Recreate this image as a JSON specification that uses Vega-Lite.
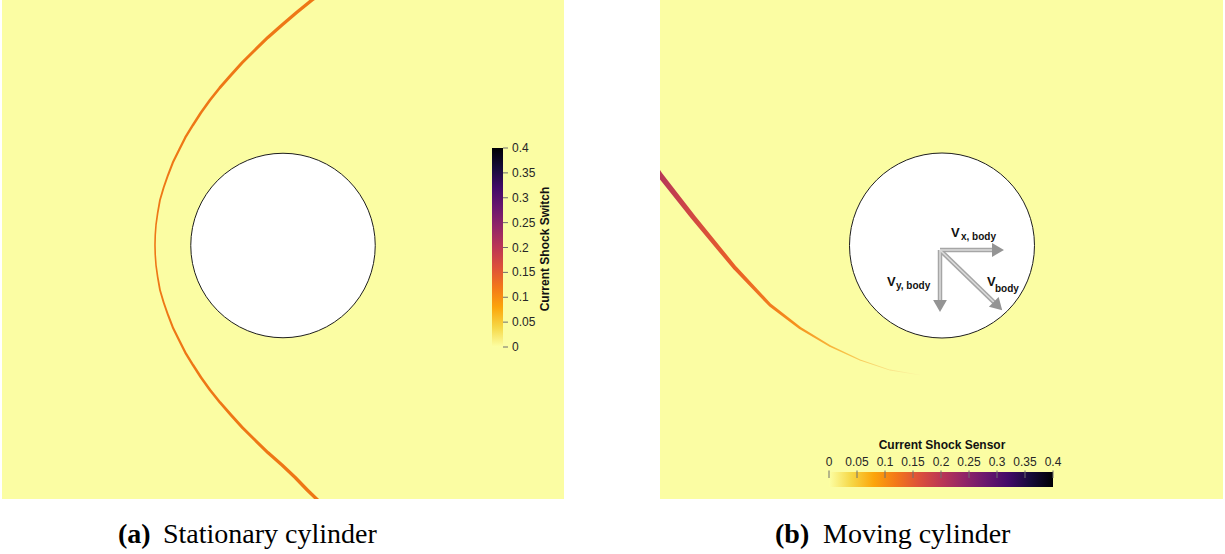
{
  "$schema": "https://vega.github.io/schema/vega-lite/v6.json",
  "background": "white",
  "padding": {"left": 2, "top": 0, "right": 0, "bottom": 0},
  "spacing": 96,
  "config": {
    "view": {"fill": "#fbfda3", "stroke": null},
    "axis": {"disable": true},
    "legend": {"disable": true},
    "text": {"font": "Liberation Sans"}
  },
  "datasets": {
    "shockA": [
      {"x": 0.454, "y": 2.762, "s": 0.17},
      {"x": 0.314, "y": 2.654, "s": 0.17},
      {"x": 0.147, "y": 2.519, "s": 0.165},
      {"x": -0.011, "y": 2.384, "s": 0.16},
      {"x": -0.164, "y": 2.249, "s": 0.155},
      {"x": -0.303, "y": 2.114, "s": 0.15},
      {"x": -0.44, "y": 1.978, "s": 0.145},
      {"x": -0.562, "y": 1.843, "s": 0.14},
      {"x": -0.681, "y": 1.708, "s": 0.135},
      {"x": -0.789, "y": 1.573, "s": 0.13},
      {"x": -0.886, "y": 1.438, "s": 0.125},
      {"x": -0.973, "y": 1.303, "s": 0.12},
      {"x": -1.056, "y": 1.168, "s": 0.115},
      {"x": -1.124, "y": 1.032, "s": 0.11},
      {"x": -1.191, "y": 0.897, "s": 0.105},
      {"x": -1.243, "y": 0.762, "s": 0.1},
      {"x": -1.29, "y": 0.627, "s": 0.095},
      {"x": -1.33, "y": 0.492, "s": 0.09},
      {"x": -1.354, "y": 0.357, "s": 0.085},
      {"x": -1.373, "y": 0.222, "s": 0.08},
      {"x": -1.381, "y": 0.114, "s": 0.08},
      {"x": -1.384, "y": 0.005, "s": 0.08},
      {"x": -1.381, "y": -0.103, "s": 0.08},
      {"x": -1.373, "y": -0.211, "s": 0.08},
      {"x": -1.354, "y": -0.346, "s": 0.085},
      {"x": -1.33, "y": -0.481, "s": 0.09},
      {"x": -1.29, "y": -0.616, "s": 0.095},
      {"x": -1.243, "y": -0.751, "s": 0.1},
      {"x": -1.191, "y": -0.886, "s": 0.105},
      {"x": -1.124, "y": -1.022, "s": 0.11},
      {"x": -1.056, "y": -1.157, "s": 0.115},
      {"x": -0.973, "y": -1.292, "s": 0.12},
      {"x": -0.886, "y": -1.427, "s": 0.125},
      {"x": -0.789, "y": -1.562, "s": 0.13},
      {"x": -0.681, "y": -1.697, "s": 0.135},
      {"x": -0.562, "y": -1.832, "s": 0.14},
      {"x": -0.44, "y": -1.968, "s": 0.145},
      {"x": -0.303, "y": -2.103, "s": 0.15},
      {"x": -0.164, "y": -2.238, "s": 0.155},
      {"x": -0.011, "y": -2.373, "s": 0.16},
      {"x": 0.132, "y": -2.508, "s": 0.165},
      {"x": 0.262, "y": -2.643, "s": 0.17},
      {"x": 0.486, "y": -2.859, "s": 0.17}
    ],
    "shockB": [
      {"x": -3.1, "y": 0.84, "s": 0.28},
      {"x": -3.049, "y": 0.762, "s": 0.28},
      {"x": -2.692, "y": 0.308, "s": 0.25},
      {"x": -2.238, "y": -0.243, "s": 0.2},
      {"x": -1.859, "y": -0.643, "s": 0.16},
      {"x": -1.535, "y": -0.892, "s": 0.12},
      {"x": -1.211, "y": -1.086, "s": 0.09},
      {"x": -0.886, "y": -1.238, "s": 0.06},
      {"x": -0.562, "y": -1.346, "s": 0.04},
      {"x": -0.238, "y": -1.4, "s": 0.02}
    ],
    "cylinder": [{"cx": 0, "cy": 0}],
    "ticks": [
      {"v": 0}, {"v": 0.05}, {"v": 0.1}, {"v": 0.15}, {"v": 0.2},
      {"v": 0.25}, {"v": 0.3}, {"v": 0.35}, {"v": 0.4}
    ],
    "velocity": [
      {"c": "Vx", "x": -0.0216, "y": -0.0486, "x2": 0.6054, "y2": -0.0486, "dir": 0},
      {"c": "Vy", "x": -0.0216, "y": -0.0486, "x2": -0.0216, "y2": -0.6541, "dir": 90},
      {"c": "V", "x": -0.0216, "y": -0.0486, "x2": 0.6054, "y2": -0.6541, "dir": 45}
    ]
  },
  "hconcat": [
    {
      "width": 562,
      "height": 499,
      "resolve": {"scale": {"y": "independent"}},
      "layer": [
        {
          "layer": [
            {
              "data": {"name": "shockA"},
              "mark": {"type": "trail", "color": "#ee7716", "clip": true},
              "encoding": {
                "x": {"field": "x", "type": "quantitative", "scale": {"domain": [-3.0378, 3.0378], "nice": false, "zero": false}},
                "y": {"field": "y", "type": "quantitative", "scale": {"domain": [-2.7405, 2.6541], "nice": false, "zero": false}},
                "size": {"field": "s", "type": "quantitative", "scale": {"domain": [0, 0.4], "range": [0, 8]}},
                "order": {"field": "y", "sort": "descending"}
              }
            },
            {
              "data": {"name": "cylinder"},
              "mark": {"type": "point", "shape": "circle", "filled": true, "fill": "white", "stroke": "#1e1e1e", "strokeWidth": 1, "size": 34040, "opacity": 1},
              "encoding": {
                "x": {"field": "cx", "type": "quantitative", "scale": {"domain": [-3.0378, 3.0378], "nice": false, "zero": false}},
                "y": {"field": "cy", "type": "quantitative", "scale": {"domain": [-2.7405, 2.6541], "nice": false, "zero": false}}
              }
            },
            {
              "data": {"values": [{"t": "(a)"}]},
              "mark": {"type": "text", "font": "Liberation Serif", "fontSize": 28, "fontWeight": "bold", "align": "left", "baseline": "alphabetic", "color": "#000"},
              "encoding": {
                "x": {"datum": -1.7838, "type": "quantitative", "scale": {"domain": [-3.0378, 3.0378], "nice": false, "zero": false}},
                "y": {"datum": -3.2162, "type": "quantitative", "scale": {"domain": [-2.7405, 2.6541], "nice": false, "zero": false}},
                "text": {"field": "t"}
              }
            },
            {
              "data": {"values": [{"t": "Stationary cylinder"}]},
              "mark": {"type": "text", "font": "Liberation Serif", "fontSize": 28, "align": "left", "baseline": "alphabetic", "color": "#000"},
              "encoding": {
                "x": {"datum": -1.2973, "type": "quantitative", "scale": {"domain": [-3.0378, 3.0378], "nice": false, "zero": false}},
                "y": {"datum": -3.2162, "type": "quantitative", "scale": {"domain": [-2.7405, 2.6541], "nice": false, "zero": false}},
                "text": {"field": "t"}
              }
            }
          ]
        },
        {
          "layer": [
            {
              "data": {"values": [{"lo": 0, "hi": 0.4}]},
              "mark": {
                "type": "rect",
                "color": {
                  "gradient": "linear", "x1": 0, "y1": 1, "x2": 0, "y2": 0,
                  "stops": [
                    {"offset": 0, "color": "#fcffa4"},
                    {"offset": 0.1, "color": "#f6d746"},
                    {"offset": 0.2, "color": "#fca50a"},
                    {"offset": 0.3, "color": "#f37819"},
                    {"offset": 0.4, "color": "#dd513a"},
                    {"offset": 0.5, "color": "#bc3754"},
                    {"offset": 0.6, "color": "#932667"},
                    {"offset": 0.7, "color": "#6a176e"},
                    {"offset": 0.8, "color": "#420a68"},
                    {"offset": 0.9, "color": "#160b39"},
                    {"offset": 1, "color": "#000004"}
                  ]
                }
              },
              "encoding": {
                "x": {"datum": 2.2595, "type": "quantitative", "scale": {"domain": [-3.0378, 3.0378], "nice": false, "zero": false}},
                "x2": {"datum": 2.3784},
                "y": {"field": "lo", "type": "quantitative", "scale": {"domain": [-0.3055, 0.6975], "nice": false, "zero": false}},
                "y2": {"field": "hi"}
              }
            },
            {
              "data": {"name": "ticks"},
              "mark": {"type": "rule", "color": "#6e6e6e", "strokeWidth": 1},
              "encoding": {
                "x": {"datum": 2.3784, "type": "quantitative", "scale": {"domain": [-3.0378, 3.0378], "nice": false, "zero": false}},
                "x2": {"datum": 2.4324},
                "y": {"field": "v", "type": "quantitative", "scale": {"domain": [-0.3055, 0.6975], "nice": false, "zero": false}}
              }
            },
            {
              "data": {"name": "ticks"},
              "mark": {"type": "text", "fontSize": 12, "align": "left", "baseline": "middle", "color": "#262626"},
              "encoding": {
                "x": {"datum": 2.4757, "type": "quantitative", "scale": {"domain": [-3.0378, 3.0378], "nice": false, "zero": false}},
                "y": {"field": "v", "type": "quantitative", "scale": {"domain": [-0.3055, 0.6975], "nice": false, "zero": false}},
                "text": {"field": "v", "type": "quantitative", "format": "~g"}
              }
            },
            {
              "data": {"values": [{"t": "Current Shock Switch"}]},
              "mark": {"type": "text", "fontSize": 12, "fontWeight": "bold", "angle": 270, "align": "center", "baseline": "middle", "color": "#111"},
              "encoding": {
                "x": {"datum": 2.8324, "type": "quantitative", "scale": {"domain": [-3.0378, 3.0378], "nice": false, "zero": false}},
                "y": {"datum": 0.197, "type": "quantitative", "scale": {"domain": [-0.3055, 0.6975], "nice": false, "zero": false}},
                "text": {"field": "t"}
              }
            }
          ]
        }
      ]
    },
    {
      "width": 563,
      "height": 499,
      "resolve": {"scale": {"x": "independent"}},
      "layer": [
        {
          "layer": [
            {
              "data": {"name": "shockB"},
              "mark": {
                "type": "trail",
                "clip": true,
                "color": {
                  "gradient": "linear", "x1": 0, "y1": 0, "x2": 1, "y2": 0,
                  "stops": [
                    {"offset": 0, "color": "#b0345b"},
                    {"offset": 0.12, "color": "#cc4448"},
                    {"offset": 0.3, "color": "#e95f28"},
                    {"offset": 0.53, "color": "#f68f1a"},
                    {"offset": 0.72, "color": "#f8c248"},
                    {"offset": 0.9, "color": "#f9e68c"},
                    {"offset": 1, "color": "#fbf7a4"}
                  ]
                }
              },
              "encoding": {
                "x": {"field": "x", "type": "quantitative", "scale": {"domain": [-3.0486, 3.0378], "nice": false, "zero": false}},
                "y": {"field": "y", "type": "quantitative", "scale": {"domain": [-2.7405, 2.6541], "nice": false, "zero": false}},
                "size": {"field": "s", "type": "quantitative", "scale": {"domain": [0, 0.4], "range": [0, 8]}},
                "order": {"field": "x"}
              }
            },
            {
              "data": {"name": "cylinder"},
              "mark": {"type": "point", "shape": "circle", "filled": true, "fill": "white", "stroke": "#1e1e1e", "strokeWidth": 1, "size": 34225, "opacity": 1},
              "encoding": {
                "x": {"field": "cx", "type": "quantitative", "scale": {"domain": [-3.0486, 3.0378], "nice": false, "zero": false}},
                "y": {"field": "cy", "type": "quantitative", "scale": {"domain": [-2.7405, 2.6541], "nice": false, "zero": false}}
              }
            },
            {
              "data": {"name": "velocity"},
              "mark": {"type": "rule", "color": "#a6a6a6", "strokeWidth": 4.5},
              "encoding": {
                "x": {"field": "x", "type": "quantitative", "scale": {"domain": [-3.0486, 3.0378], "nice": false, "zero": false}},
                "y": {"field": "y", "type": "quantitative", "scale": {"domain": [-2.7405, 2.6541], "nice": false, "zero": false}},
                "x2": {"field": "x2"},
                "y2": {"field": "y2"}
              }
            },
            {
              "data": {"name": "velocity"},
              "mark": {"type": "rule", "color": "#dcdcdc", "strokeWidth": 1.5},
              "encoding": {
                "x": {"field": "x", "type": "quantitative", "scale": {"domain": [-3.0486, 3.0378], "nice": false, "zero": false}},
                "y": {"field": "y", "type": "quantitative", "scale": {"domain": [-2.7405, 2.6541], "nice": false, "zero": false}},
                "x2": {"field": "x2"},
                "y2": {"field": "y2"}
              }
            },
            {
              "data": {"name": "velocity"},
              "mark": {"type": "point", "shape": "triangle-right", "filled": true, "color": "#949494", "size": 190, "opacity": 1},
              "encoding": {
                "x": {"field": "x2", "type": "quantitative", "scale": {"domain": [-3.0486, 3.0378], "nice": false, "zero": false}},
                "y": {"field": "y2", "type": "quantitative", "scale": {"domain": [-2.7405, 2.6541], "nice": false, "zero": false}},
                "angle": {"field": "dir", "type": "quantitative", "scale": null}
              }
            },
            {
              "data": {"values": [
                {"t": "V", "px": 0.0973, "py": 0.0919},
                {"t": "V", "px": -0.5946, "py": -0.4378},
                {"t": "V", "px": 0.4865, "py": -0.4378}
              ]},
              "mark": {"type": "text", "fontSize": 13, "fontWeight": "bold", "align": "left", "baseline": "alphabetic", "color": "#111"},
              "encoding": {
                "x": {"field": "px", "type": "quantitative", "scale": {"domain": [-3.0486, 3.0378], "nice": false, "zero": false}},
                "y": {"field": "py", "type": "quantitative", "scale": {"domain": [-2.7405, 2.6541], "nice": false, "zero": false}},
                "text": {"field": "t"}
              }
            },
            {
              "data": {"values": [
                {"t": "x, body", "px": 0.2054, "py": 0.0595},
                {"t": "y, body", "px": -0.4973, "py": -0.4703},
                {"t": "body", "px": 0.573, "py": -0.5027}
              ]},
              "mark": {"type": "text", "fontSize": 10, "fontWeight": "bold", "align": "left", "baseline": "alphabetic", "color": "#111"},
              "encoding": {
                "x": {"field": "px", "type": "quantitative", "scale": {"domain": [-3.0486, 3.0378], "nice": false, "zero": false}},
                "y": {"field": "py", "type": "quantitative", "scale": {"domain": [-2.7405, 2.6541], "nice": false, "zero": false}},
                "text": {"field": "t"}
              }
            },
            {
              "data": {"values": [{"t": "(b)"}]},
              "mark": {"type": "text", "font": "Liberation Serif", "fontSize": 28, "fontWeight": "bold", "align": "left", "baseline": "alphabetic", "color": "#000"},
              "encoding": {
                "x": {"datum": -1.8054, "type": "quantitative", "scale": {"domain": [-3.0486, 3.0378], "nice": false, "zero": false}},
                "y": {"datum": -3.2162, "type": "quantitative", "scale": {"domain": [-2.7405, 2.6541], "nice": false, "zero": false}},
                "text": {"field": "t"}
              }
            },
            {
              "data": {"values": [{"t": "Moving cylinder"}]},
              "mark": {"type": "text", "font": "Liberation Serif", "fontSize": 28, "align": "left", "baseline": "alphabetic", "color": "#000"},
              "encoding": {
                "x": {"datum": -1.2865, "type": "quantitative", "scale": {"domain": [-3.0486, 3.0378], "nice": false, "zero": false}},
                "y": {"datum": -3.2162, "type": "quantitative", "scale": {"domain": [-2.7405, 2.6541], "nice": false, "zero": false}},
                "text": {"field": "t"}
              }
            }
          ]
        },
        {
          "layer": [
            {
              "data": {"values": [{"lo": 0, "hi": 0.4}]},
              "mark": {
                "type": "rect",
                "color": {
                  "gradient": "linear", "x1": 0, "y1": 0, "x2": 1, "y2": 0,
                  "stops": [
                    {"offset": 0, "color": "#fcffa4"},
                    {"offset": 0.1, "color": "#f6d746"},
                    {"offset": 0.2, "color": "#fca50a"},
                    {"offset": 0.3, "color": "#f37819"},
                    {"offset": 0.4, "color": "#dd513a"},
                    {"offset": 0.5, "color": "#bc3754"},
                    {"offset": 0.6, "color": "#932667"},
                    {"offset": 0.7, "color": "#6a176e"},
                    {"offset": 0.8, "color": "#420a68"},
                    {"offset": 0.9, "color": "#160b39"},
                    {"offset": 1, "color": "#000004"}
                  ]
                }
              },
              "encoding": {
                "x": {"field": "lo", "type": "quantitative", "scale": {"domain": [-0.30179, 0.70357], "nice": false, "zero": false}},
                "x2": {"field": "hi"},
                "y": {"datum": -2.4486, "type": "quantitative", "scale": {"domain": [-2.7405, 2.6541], "nice": false, "zero": false}},
                "y2": {"datum": -2.6108}
              }
            },
            {
              "data": {"name": "ticks"},
              "mark": {"type": "rule", "color": "#6e6e6e", "strokeWidth": 1},
              "encoding": {
                "x": {"field": "v", "type": "quantitative", "scale": {"domain": [-0.30179, 0.70357], "nice": false, "zero": false}},
                "y": {"datum": -2.4324, "type": "quantitative", "scale": {"domain": [-2.7405, 2.6541], "nice": false, "zero": false}},
                "y2": {"datum": -2.5135}
              }
            },
            {
              "data": {"name": "ticks"},
              "mark": {"type": "text", "fontSize": 12, "align": "center", "baseline": "alphabetic", "color": "#262626"},
              "encoding": {
                "x": {"field": "v", "type": "quantitative", "scale": {"domain": [-0.30179, 0.70357], "nice": false, "zero": false}},
                "y": {"datum": -2.3838, "type": "quantitative", "scale": {"domain": [-2.7405, 2.6541], "nice": false, "zero": false}},
                "text": {"field": "v", "type": "quantitative", "format": "~g"}
              }
            },
            {
              "data": {"values": [{"t": "Current Shock Sensor"}]},
              "mark": {"type": "text", "fontSize": 12, "fontWeight": "bold", "align": "center", "baseline": "alphabetic", "color": "#111"},
              "encoding": {
                "x": {"datum": 0.2018, "type": "quantitative", "scale": {"domain": [-0.30179, 0.70357], "nice": false, "zero": false}},
                "y": {"datum": -2.2, "type": "quantitative", "scale": {"domain": [-2.7405, 2.6541], "nice": false, "zero": false}},
                "text": {"field": "t"}
              }
            }
          ]
        }
      ]
    }
  ]
}
